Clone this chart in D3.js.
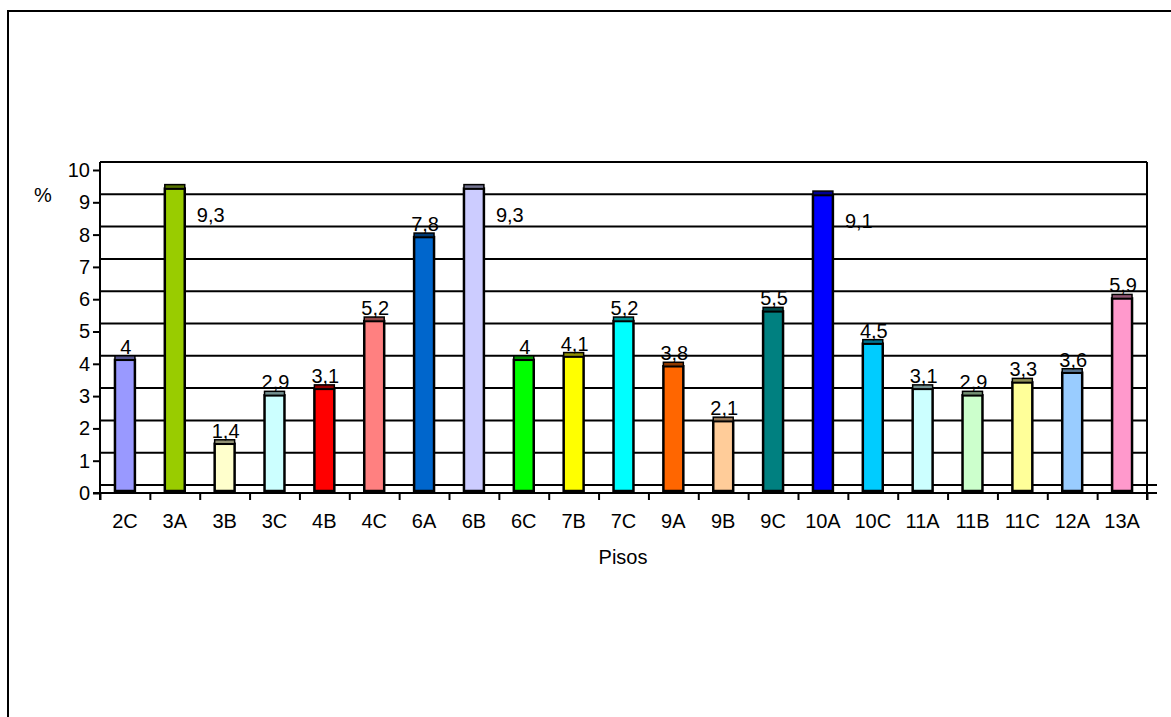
<!DOCTYPE html>
<html>
<head>
<meta charset="utf-8">
<script src="https://cdn.jsdelivr.net/npm/d3@7"></script>
<style>
  body { margin: 0; background: #fff; }
  text { font-family: "Liberation Sans", Arial, sans-serif; fill: #000; }
</style>
</head>
<body>
<div id="chart"></div>
<script>
// data
var pisos = ["2C", "3A", "3B", "3C", "4B", "4C", "6A", "6B", "6C", "7B", "7C",
    "9A", "9B", "9C", "10A", "10C", "11A", "11B", "11C", "12A", "13A"];
var valores = [4, 9.3, 1.4, 2.9, 3.1, 5.2, 7.8, 9.3, 4, 4.1, 5.2,
    3.8, 2.1, 5.5, 9.1, 4.5, 3.1, 2.9, 3.3, 3.6, 5.9];
var colores = ["#9999ff", "#99cc00", "#ffffcc", "#ccffff", "#ff0000", "#ff8080",
    "#0066cc", "#ccccff", "#00ff00", "#ffff00", "#00ffff", "#ff6600", "#ffcc99",
    "#008080", "#0000ff", "#00ccff", "#ccffff", "#ccffcc", "#ffff99", "#99ccff", "#ff99cc"];
var yTicks = [0, 1, 2, 3, 4, 5, 6, 7, 8, 9, 10];

var data = pisos.map(function (p, i) {
    return { piso: p, valor: valores[i], color: colores[i] };
});

var W = 1171, H = 717;
var left = 100, right = 1147, depthX = 10, depthY = 8;
var font = 20;

var svg = d3.select("#chart")
    .append("svg")
    .attr("width", W)
    .attr("height", H);

// outer frame (runs off the page right and bottom)
svg.append("rect")
    .attr("x", 8).attr("y", 11)
    .attr("width", W + 20).attr("height", H + 20)
    .attr("fill", "none")
    .attr("stroke", "#000")
    .attr("stroke-width", 2);

// scales
var x = d3.scaleBand()
    .domain(pisos)
    .range([left, right])
    .paddingInner(0.6)
    .paddingOuter(0.3);

var xEdges = d3.scaleLinear()
    .domain([0, pisos.length])
    .range([left, right]);

// front axis scale and back wall scale (pseudo 3d offset)
var y = d3.scaleLinear().domain([0, 10]).range([493, 170]);
var yBack = d3.scaleLinear().domain([0, 10]).range([493 - depthY, 170 - depthY]);

// gridlines on the back wall
svg.append("g")
    .selectAll("line")
    .data(yTicks)
    .enter()
    .append("line")
    .attr("x1", left)
    .attr("x2", function (d) { return d === 0 ? right + depthX : right; })
    .attr("y1", function (d) { return yBack(d); })
    .attr("y2", function (d) { return yBack(d); })
    .attr("stroke", "#000")
    .attr("stroke-width", 2);

// right wall
svg.append("line")
    .attr("x1", right).attr("x2", right)
    .attr("y1", yBack(10)).attr("y2", y(0) + 7)
    .attr("stroke", "#000")
    .attr("stroke-width", 2);

// bars
var barBottom = y(0) - 2;
var bars = svg.append("g")
    .selectAll("g")
    .data(data)
    .enter()
    .append("g");

bars.append("rect")
    .attr("x", function (d) { return x(d.piso); })
    .attr("y", function (d) { return yBack(d.valor) + 4; })
    .attr("width", x.bandwidth())
    .attr("height", function (d) { return barBottom - yBack(d.valor) - 4; })
    .attr("fill", function (d) { return d.color; })
    .attr("stroke", "#000")
    .attr("stroke-width", 2.5);

// top face
bars.append("rect")
    .attr("x", function (d) { return x(d.piso); })
    .attr("y", function (d) { return yBack(d.valor); })
    .attr("width", x.bandwidth())
    .attr("height", 4)
    .attr("fill", function (d) { return d3.color(d.color).darker(1.6); })
    .attr("stroke", "#000")
    .attr("stroke-width", 1.5);

// value labels
var fmt = function (v) { return String(v).replace(".", ","); };
bars.append("text")
    .attr("x", function (d) {
        var cx = x(d.piso) + x.bandwidth() / 2;
        return d.valor > 9 ? cx + 22 : cx + 1;
    })
    .attr("y", function (d) {
        return d.valor > 9 ? yBack(d.valor) + 37 : yBack(d.valor) - 2;
    })
    .attr("text-anchor", function (d) { return d.valor > 9 ? "start" : "middle"; })
    .style("font-size", font + "px")
    .text(function (d) { return fmt(d.valor); });

// Y axis
var yAxis = svg.append("g")
    .attr("transform", "translate(" + left + ",0)")
    .call(d3.axisLeft(y).tickValues(yTicks).tickSize(7).tickSizeOuter(0).tickPadding(3));
yAxis.select(".domain").remove();
yAxis.append("line")
    .attr("x1", 0).attr("x2", 0)
    .attr("y1", yBack(10)).attr("y2", y(0) + 7)
    .attr("stroke", "#000").attr("stroke-width", 2);
yAxis.selectAll(".tick line").attr("stroke-width", 2);
yAxis.selectAll("text").style("font-size", font + "px").attr("font-family", null);

// X axis
var xAxis = svg.append("g")
    .attr("transform", "translate(0," + y(0) + ")")
    .call(d3.axisBottom(xEdges).tickValues(d3.range(pisos.length + 1)).tickSize(7).tickFormat(""));
xAxis.select(".domain").remove();
xAxis.selectAll(".tick line").attr("stroke-width", 2);
xAxis.append("line")
    .attr("x1", left - 7).attr("x2", right + depthX)
    .attr("y1", 0).attr("y2", 0)
    .attr("stroke", "#000").attr("stroke-width", 2);

svg.append("g")
    .selectAll("text")
    .data(pisos)
    .enter()
    .append("text")
    .attr("x", function (d) { return x(d) + x.bandwidth() / 2; })
    .attr("y", y(0) + 35)
    .attr("text-anchor", "middle")
    .style("font-size", font + "px")
    .text(function (d) { return d; });

// axis titles
svg.append("text")
    .attr("x", 43).attr("y", 202)
    .attr("text-anchor", "middle")
    .style("font-size", font + "px")
    .text("%");

svg.append("text")
    .attr("x", 623).attr("y", 564)
    .attr("text-anchor", "middle")
    .style("font-size", font + "px")
    .text("Pisos");
</script>
</body>
</html>
